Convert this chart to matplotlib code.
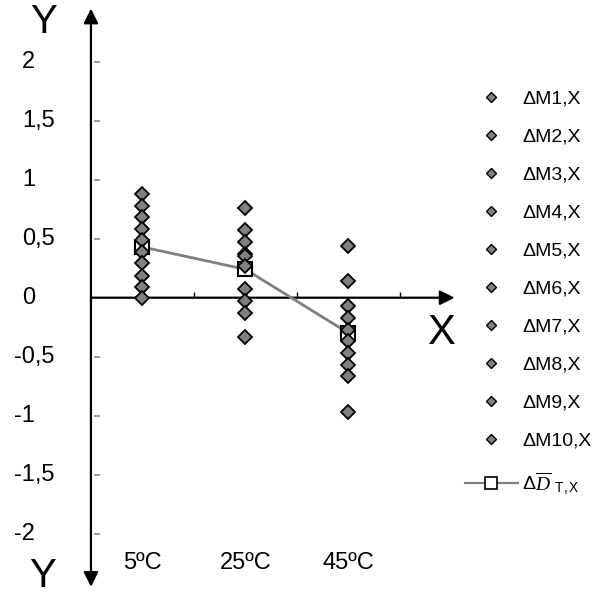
import numpy as np
import matplotlib.pyplot as plt
from matplotlib.lines import Line2D
from matplotlib.transforms import blended_transform_factory

plt.rcParams['font.family'] = ['Liberation Sans', 'DejaVu Sans']
plt.rcParams['mathtext.fontset'] = 'custom'
plt.rcParams['mathtext.rm'] = 'Liberation Sans'
plt.rcParams['mathtext.sf'] = 'Liberation Sans'
plt.rcParams['mathtext.it'] = 'Liberation Serif:italic'

categories = ['5ºC', '25ºC', '45ºC']
series_names = ['ΔM1,X', 'ΔM2,X', 'ΔM3,X', 'ΔM4,X', 'ΔM5,X',
                'ΔM6,X', 'ΔM7,X', 'ΔM8,X', 'ΔM9,X', 'ΔM10,X']

# values of each of the ten series at 5, 25 and 45 ºC
vals_5 = [0.88, 0.78, 0.68, 0.58, 0.49, 0.39, 0.29, 0.18, 0.09, 0.0]
vals_25 = [0.76, 0.57, 0.47, 0.37, 0.35, 0.27, 0.07, -0.03, -0.13, -0.33]
vals_45 = [0.44, 0.14, -0.07, -0.17, -0.27, -0.37, -0.47, -0.57, -0.66, -0.97]
mean_vals = [0.43, 0.24, -0.30]

y_ticks = [-2, -1.5, -1, -0.5, 0, 0.5, 1, 1.5, 2]
y_tick_labels = ['-2', '-1,5', '-1', '-0,5', '0', '0,5', '1', '1,5', '2']

fig = plt.figure(figsize=(5.93, 5.96), dpi=100)
ax = fig.add_axes([0, 0, 1, 1])
ax.set_xlim(-1.383, 4.374)
ax.set_ylim(-2.528, 2.523)
ax.axis('off')

x = np.arange(len(categories))
grey = '#808080'

# axes with arrows
ax.annotate('', xy=(-0.5, 2.45), xytext=(-0.5, -2.45),
            arrowprops=dict(arrowstyle='<|-|>', lw=1.6, color='black',
                            mutation_scale=22, shrinkA=0, shrinkB=0))
ax.annotate('', xy=(3.03, 0), xytext=(-0.5, 0),
            arrowprops=dict(arrowstyle='-|>', lw=1.6, color='black',
                            mutation_scale=22, shrinkA=0, shrinkB=0))

# small y ticks to the right of the axis
ax.hlines([t for t in y_ticks if t != 0], -0.47, -0.41, color=grey, lw=1.1)
# x ticks between categories
ax.vlines(x + 0.5, 0, 0.05, color='black', lw=1)

trans = blended_transform_factory(fig.transFigure, ax.transData)
for t, lab in zip(y_ticks, y_tick_labels):
    xpos = 14 / 593 if t < 0 else 22 / 593
    ax.text(xpos, t, lab, transform=trans, ha='left', va='center', fontsize=17)

for i, c in enumerate(categories):
    ax.text(x[i], -2.25, c, ha='center', va='center', fontsize=17)

ax.text(44 / 593, 1 - 22 / 596, 'Y', transform=fig.transFigure,
        ha='center', va='center', fontsize=29)
ax.text(43 / 593, 1 - 576 / 596, 'Y', transform=fig.transFigure,
        ha='center', va='center', fontsize=29)
ax.text(441 / 593, 1 - 333 / 596, 'X', transform=fig.transFigure,
        ha='center', va='center', fontsize=30)

# mean line
ax.plot(x, mean_vals, color=grey, lw=2, marker='s', ms=10,
        mfc='white', mec='black', mew=1.5, zorder=3)

# individual series
data = np.array([vals_5, vals_25, vals_45])
for j in range(len(series_names)):
    ax.plot(x, data[:, j], ls='none', marker='D', ms=6.8, mfc=grey,
            mec='black', mew=1.3, zorder=4)

handles = [Line2D([], [], ls='none', marker='D', ms=5, mfc=grey, mec='black', mew=1)
           for _ in series_names]
handles.append(Line2D([], [], color=grey, lw=1.6, marker='s', ms=8,
                      mfc='white', mec='black', mew=1.2))
labels = series_names + [r'$\Delta\overline{D}$ $_{\mathsf{T,X}}$']
fig.legend(handles, labels, loc='upper left', bbox_to_anchor=(465 / 593, 1 - 90 / 596),
           frameon=False, fontsize=14, labelspacing=1.05, handlelength=2.7,
           handletextpad=0.25, borderpad=0, borderaxespad=0)

fig.savefig('out.png', dpi=100)
